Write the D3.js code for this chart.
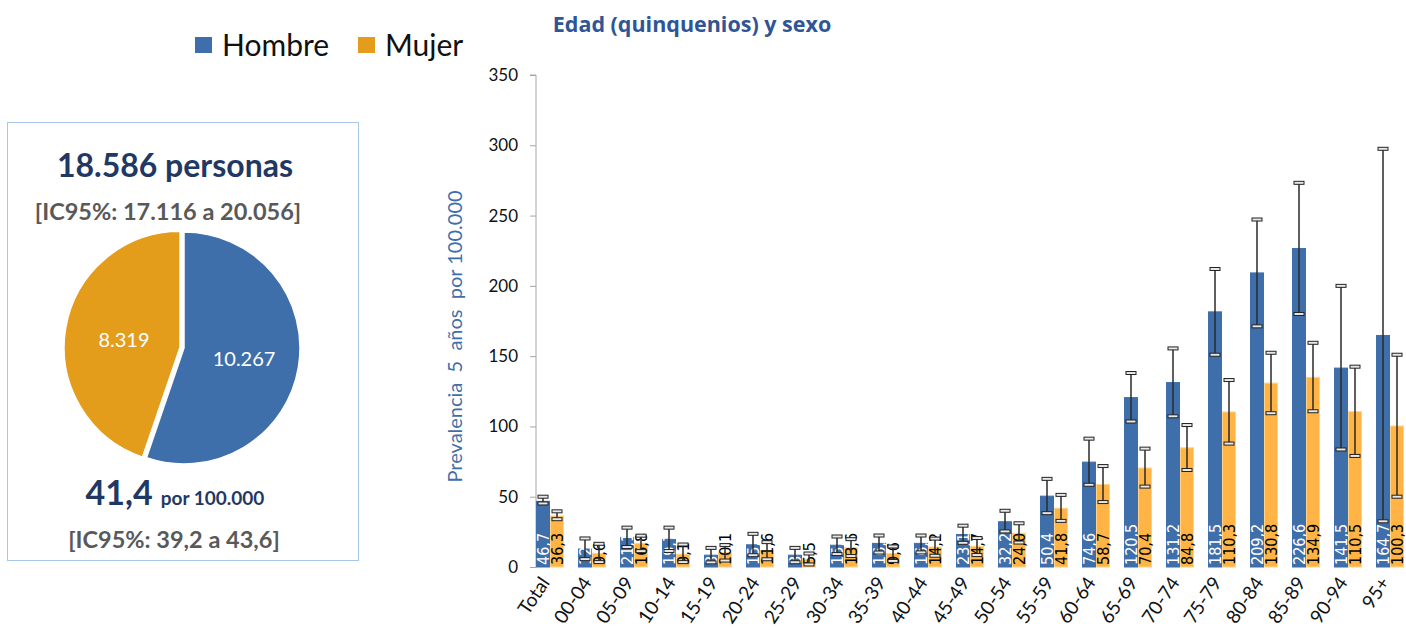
<!DOCTYPE html>
<html>
<head>
<meta charset="utf-8">
<script src="https://cdn.jsdelivr.net/npm/d3@7"></script>
<style>
  body { margin: 0; background: #fff; }
  svg { display: block; font-family: Lato, "Open Sans", sans-serif; }
</style>
</head>
<body>
<svg id="chart" width="1406" height="630"></svg>
<script>
// --- data ---
const categories = ["Total", "00-04", "05-09", "10-14", "15-19", "20-24", "25-29", "30-34", "35-39", "40-44",
  "45-49", "50-54", "55-59", "60-64", "65-69", "70-74", "75-79", "80-84", "85-89", "90-94", "95+"];
const hombre   = [46.7, 12.8, 21.1, 19.7, 8.4, 15.8, 8.4, 15.5, 16.8, 16.8, 23.1, 32.2, 50.4, 74.6, 120.5, 131.2, 181.5, 209.2, 226.6, 141.5, 164.7];
const hombreLo = [45.2, 5.6, 14.2, 11.4, 3.3, 8.4, 3.4, 9.2, 10.3, 10.4, 17.2, 25.3, 38.3, 58.5, 103.5, 107.2, 151.0, 171.2, 180.0, 83.6, 32.5];
const hombreHi = [50.0, 20.3, 28.0, 28.0, 13.6, 23.6, 13.6, 21.7, 22.4, 22.4, 29.4, 40.0, 62.7, 91.3, 138.0, 155.5, 212.0, 247.2, 273.3, 200.0, 297.5];
const mujer    = [36.3, 9.6, 16.8, 9.1, 10.1, 11.6, 5.5, 13.6, 9.6, 14.2, 14.7, 24.0, 41.8, 58.7, 70.4, 84.8, 110.3, 130.8, 134.9, 110.5, 100.3];
const mujerLo  = [34.0, 3.5, 11.3, 3.5, 4.6, 5.5, 1.8, 7.8, 4.3, 8.0, 8.5, 17.4, 32.8, 46.2, 57.2, 69.0, 87.8, 109.4, 110.8, 79.0, 50.0];
const mujerHi  = [39.6, 16.5, 22.3, 16.0, 15.6, 17.7, 9.6, 19.8, 14.6, 20.2, 20.6, 31.1, 51.3, 71.8, 84.2, 101.0, 133.0, 152.4, 159.5, 142.5, 151.0];
const yTicks = [0, 50, 100, 150, 200, 250, 300, 350];

const pieLabels = ["Hombre", "Mujer"];
const pieValues = [10267, 8319];

const blue = "#3F6FAA", orangeBar = "#FFB445", orangePie = "#E49C1B";

const svg = d3.select("#chart");
const fmt = v => d3.format(".1f")(v).replace(".", ",");

// --- legend ---
const legend = svg.append("g");
[["Hombre", blue, 195], ["Mujer", orangePie, 358]].forEach(([name, col, lx]) => {
  legend.append("rect").attr("x", lx).attr("y", 37).attr("width", 17).attr("height", 16).attr("fill", col);
  legend.append("text").attr("x", lx + 27).attr("y", 56).attr("font-size", 30).attr("fill", "#111").text(name);
});

// --- pie panel ---
const panel = svg.append("g");
panel.append("rect").attr("x", 7.5).attr("y", 122.5).attr("width", 351).attr("height", 438)
  .attr("fill", "none").attr("stroke", "#A9C8E8").attr("stroke-width", 1);

panel.append("text").attr("x", 175).attr("y", 177).attr("text-anchor", "middle")
  .attr("font-size", 32).attr("font-weight", 700).attr("fill", "#1F3864").text("18.586 personas");
panel.append("text").attr("x", 168).attr("y", 220).attr("text-anchor", "middle")
  .attr("font-size", 23.5).attr("font-weight", 700).attr("fill", "#595959").text("[IC95%: 17.116 a 20.056]");

const pie = d3.pie().sort(null)(pieValues);
const arc = d3.arc().innerRadius(0).outerRadius(116);
const pieG = panel.append("g").attr("transform", "translate(184,348)");
const pieColors = [blue, orangePie];
pieG.selectAll("path").data(pie).join("path")
  .attr("d", arc)
  .attr("transform", (d, i) => {
    if (i === 0) return null;
    const [cx, cy] = arc.centroid(d);
    const k = 4 / Math.hypot(cx, cy);
    return `translate(${cx * k},${cy * k})`;
  })
  .attr("fill", (d, i) => pieColors[i])
  .attr("stroke", "#fff").attr("stroke-width", 1.5);
const labelArc = d3.arc().innerRadius(70).outerRadius(70);
pieG.selectAll("text").data(pie).join("text")
  .attr("transform", (d, i) => {
    const [cx, cy] = labelArc.centroid(d);
    return i === 0 ? `translate(${cx - 9},${cy + 7})` : `translate(${cx + 9},${cy + 10})`;
  })
  .attr("text-anchor", "middle").attr("font-size", 20).attr("fill", "#fff")
  .text(d => d3.format(",")(d.data).replace(",", "."));

const rate = panel.append("text").attr("x", 175).attr("y", 505).attr("text-anchor", "middle")
  .attr("font-weight", 700).attr("fill", "#1F3864");
rate.append("tspan").attr("font-size", 34).text("41,4");
rate.append("tspan").attr("font-size", 19).attr("dx", 8).text("por 100.000");
panel.append("text").attr("x", 174).attr("y", 548).attr("text-anchor", "middle")
  .attr("font-size", 23.5).attr("font-weight", 700).attr("fill", "#595959").text("[IC95%: 39,2 a 43,6]");

// --- bar chart ---
svg.append("text").attr("x", 692).attr("y", 32).attr("text-anchor", "middle")
  .style("font-family", "'Open Sans', sans-serif")
  .attr("font-size", 21.5).attr("font-weight", 700).attr("fill", "#2F5597").text("Edad (quinquenios) y sexo");

const axisX = 536;
const y = d3.scaleLinear().domain([0, 350]).range([567, 75]);
const x = d3.scaleBand().domain(categories).range([536, 1404]).paddingInner(1 / 3).paddingOuter(0);
const bw = x.bandwidth() / 2;

const yAxisG = svg.append("g").attr("transform", `translate(${axisX},0)`)
  .call(d3.axisLeft(y).tickValues(yTicks).tickSize(6).tickPadding(12));
yAxisG.attr("font-family", null);
yAxisG.select(".domain").attr("stroke", "#A6A6A6").attr("d", `M-6,${y(350)}H0V${y(0)}`);
yAxisG.selectAll(".tick line").attr("stroke", "#A6A6A6");
yAxisG.selectAll(".tick text").attr("font-size", 17).attr("fill", "#111");

svg.append("text")
  .attr("transform", `translate(462,${y(164)}) rotate(-90)`)
  .attr("text-anchor", "middle").attr("font-size", 20).attr("fill", "#3F6FAA")
  .style("white-space", "pre").text("Prevalencia  5  años  por 100.000");

const series = [
  { vals: hombre, lo: hombreLo, hi: hombreHi, off: 0, fill: blue, stroke: blue, txt: "#fff" },
  { vals: mujer, lo: mujerLo, hi: mujerHi, off: bw, fill: orangeBar, stroke: "#FFD48A", txt: "#000" }
];

series.forEach(s => {
  const g = svg.append("g");
  g.selectAll("rect").data(s.vals).join("rect")
    .attr("x", (d, i) => x(categories[i]) + s.off + 0.5)
    .attr("y", d => y(d))
    .attr("width", bw - 1)
    .attr("height", d => y(0) - y(d))
    .attr("fill", s.fill).attr("stroke", s.stroke).attr("stroke-width", 1);
  g.selectAll("text").data(s.vals).join("text")
    .attr("transform", (d, i) => `translate(${x(categories[i]) + s.off + bw / 2},${y(0) - 2}) rotate(-90)`)
    .attr("dy", "0.36em")
    .style("font-family", "'Liberation Sans Narrow', 'DejaVu Sans Condensed', sans-serif")
    .attr("font-size", 16).attr("fill", s.txt)
    .text(d => fmt(d));
});

// error bars on top
series.forEach(s => {
  const g = svg.append("g");
  const cx = i => x(categories[i]) + s.off + bw / 2;
  g.selectAll("line").data(s.vals).join("line")
    .attr("x1", (d, i) => cx(i)).attr("x2", (d, i) => cx(i))
    .attr("y1", (d, i) => y(s.lo[i])).attr("y2", (d, i) => y(s.hi[i]))
    .attr("stroke", "#2a2a2a").attr("stroke-width", 1.5);
  ["lo", "hi"].forEach(k => {
    g.selectAll("rect." + k).data(s[k]).join("rect").attr("class", k)
      .attr("x", (d, i) => cx(i) - 5).attr("y", d => y(d) - 1.5)
      .attr("width", 10).attr("height", 3)
      .attr("fill", "#e8e8e8").attr("stroke", "#222").attr("stroke-width", 1);
  });
});

// category labels
svg.append("g").selectAll("text").data(categories).join("text")
  .attr("transform", d => `translate(${x(d) + x.bandwidth() / 2 - 5},${579}) rotate(-56)`)
  .attr("text-anchor", "end").attr("dy", "0.35em")
  .attr("font-size", 19).attr("fill", "#111")
  .text(d => d);
</script>
</body>
</html>
